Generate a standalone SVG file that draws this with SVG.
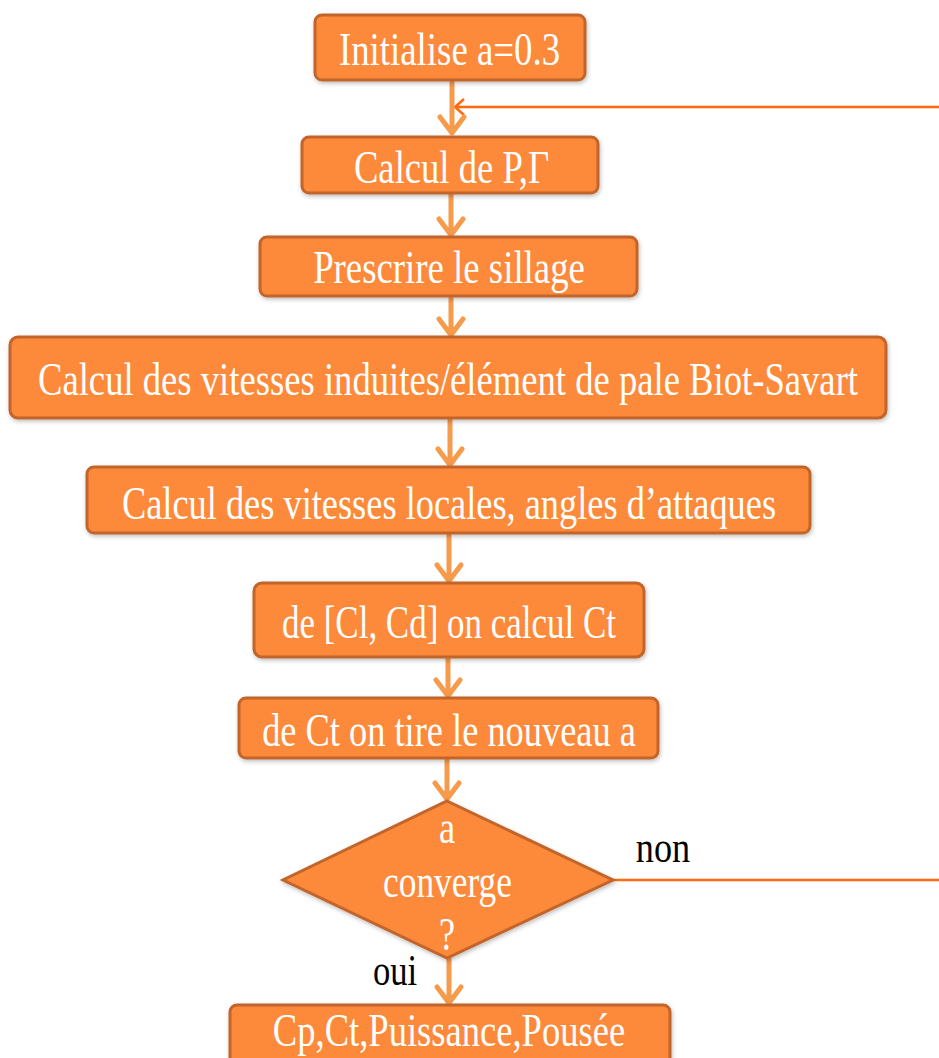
<svg xmlns="http://www.w3.org/2000/svg" width="939" height="1058" viewBox="0 0 939 1058">
<defs>
<style>
.box{fill:#FD8A3A;stroke:#C2652C;stroke-width:3}
.t{font-family:"Liberation Serif",serif;font-size:46px;fill:#ffffff;text-anchor:middle}
.lbl{font-family:"Liberation Serif",serif;font-size:44px;fill:#000000;text-anchor:middle}
.flow{stroke:#F69A4C;stroke-width:5;fill:none;stroke-linecap:round;stroke-linejoin:round}
.loop{stroke:#FF6A10;stroke-width:2.5;fill:none}
</style>
<filter id="sh" x="-5%" y="-20%" width="110%" height="140%">
<feDropShadow dx="1" dy="2" stdDeviation="2" flood-color="#000" flood-opacity="0.25"/>
</filter>
</defs>
<rect width="939" height="1058" fill="#ffffff"/>
<g id="connectors">
<path class="loop" d="M939 107 H455 M464 99 L455 107 L464 115"/>
<path class="loop" d="M613 880 H939"/>
<path class="flow" d="M452 81 V133 M440 117 L452 133 L464 117"/>
<path class="flow" d="M451 194 V235 M439 219 L451 235 L463 219"/>
<path class="flow" d="M451 297 V335 M439 319 L451 335 L463 319"/>
<path class="flow" d="M450 419 V465 M438 449 L450 465 L462 449"/>
<path class="flow" d="M449 534 V581 M437 565 L449 581 L461 565"/>
<path class="flow" d="M448 658 V696 M436 680 L448 696 L460 680"/>
<path class="flow" d="M447 759 V799 M435 783 L447 799 L459 783"/>
<path class="flow" d="M449 958 V1003 M437 987 L449 1003 L461 987"/>
</g>
<g id="n1"><rect class="box" filter="url(#sh)" x="315" y="15" width="270" height="65" rx="7"/><text class="t" transform="translate(449.5,65) scale(0.79,1)" textLength="280" lengthAdjust="spacingAndGlyphs">Initialise a=0.3</text></g>
<g id="n2"><rect class="box" filter="url(#sh)" x="302" y="137" width="296" height="56" rx="7"/><text class="t" transform="translate(451.5,183) scale(0.79,1)" textLength="247" lengthAdjust="spacingAndGlyphs">Calcul de P,Γ</text></g>
<g id="n3"><rect class="box" filter="url(#sh)" x="260" y="237" width="377" height="59" rx="7"/><text class="t" transform="translate(449,283) scale(0.79,1)" textLength="344" lengthAdjust="spacingAndGlyphs">Prescrire le sillage</text></g>
<g id="n4"><rect class="box" filter="url(#sh)" x="10" y="337" width="876" height="81" rx="8"/><text class="t" transform="translate(448,395) scale(0.79,1)" textLength="1038" lengthAdjust="spacingAndGlyphs">Calcul des vitesses induites/élément de pale Biot-Savart</text></g>
<g id="n5"><rect class="box" filter="url(#sh)" x="87" y="467" width="723" height="66" rx="7"/><text class="t" transform="translate(449,519) scale(0.79,1)" textLength="828" lengthAdjust="spacingAndGlyphs">Calcul des vitesses locales, angles d’attaques</text></g>
<g id="n6"><rect class="box" filter="url(#sh)" x="254" y="583" width="390" height="74" rx="8"/><text class="t" transform="translate(449,638) scale(0.79,1)" textLength="423" lengthAdjust="spacingAndGlyphs">de [Cl, Cd] on calcul Ct</text></g>
<g id="n7"><rect class="box" filter="url(#sh)" x="239" y="698" width="419" height="60" rx="7"/><text class="t" transform="translate(449,746) scale(0.79,1)" textLength="473" lengthAdjust="spacingAndGlyphs">de Ct on tire le nouveau a</text></g>
<g id="n8"><polygon class="box" filter="url(#sh)" points="447,801 613,880 447,958 283,880"/>
<text class="t" transform="translate(447,843) scale(0.79,1)">a</text>
<text class="t" transform="translate(447.5,897) scale(0.79,1)" textLength="163" lengthAdjust="spacingAndGlyphs">converge</text>
<text class="t" transform="translate(447,950) scale(0.79,1)">?</text></g>
<g id="n9"><rect class="box" filter="url(#sh)" x="230" y="1005" width="440" height="70" rx="7"/><text class="t" transform="translate(449,1046) scale(0.79,1)" textLength="446" lengthAdjust="spacingAndGlyphs">Cp,Ct,Puissance,Pousée</text></g>
<text class="lbl" transform="translate(663,862) scale(0.85,1)" textLength="64" lengthAdjust="spacingAndGlyphs">non</text>
<text class="lbl" transform="translate(395,985) scale(0.85,1)" textLength="52" lengthAdjust="spacingAndGlyphs">oui</text>
</svg>
